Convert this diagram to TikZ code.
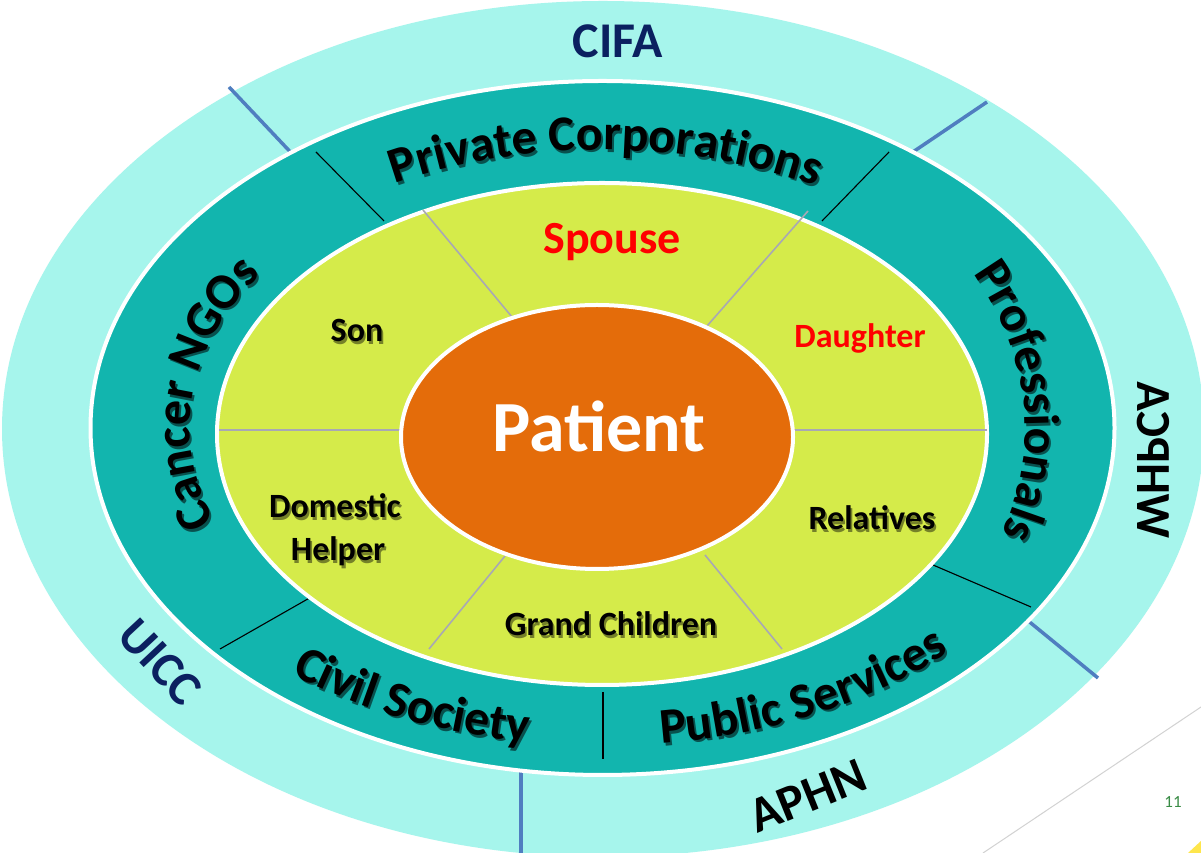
\documentclass[tikz,border=0pt]{standalone}
\usepackage{fontspec}
\setmainfont{Carlito}
\usetikzlibrary{decorations.text}
\definecolor{cyanring}{HTML}{A6F5EC}
\definecolor{tealring}{HTML}{12B5AE}
\definecolor{yellowin}{HTML}{D5EB4A}
\definecolor{orangec}{HTML}{E46C0A}
\definecolor{blueline}{HTML}{4F7EC0}
\definecolor{grayline}{HTML}{A8A8B4}
\definecolor{navytxt}{HTML}{0B2060}
\definecolor{pagegreen}{HTML}{3A8C46}
\definecolor{redtxt}{HTML}{FF0000}
\colorlet{yshadow}{yellowin!55!black}
\colorlet{tshadow}{tealring!45!black}
\newcommand\ringfont{\fontsize{50}{58}\selectfont\bfseries}
% ring texts drawn in colour #1
\newcommand\ringtexts[1]{%
\path[decorate, decoration={text along path, text align=center, text color=#1,
  text={|\ringfont|Private Corporations}}]
  (602,425) ++(159.3:433 and 278) arc[start angle=159.3, end angle=19.3, x radius=433, y radius=278];
\path[decorate, decoration={text along path, text align=center, text color=#1,
  text={|\ringfont|Cancer NGOs}}]
  (602,425) ++(234.3:412 and 274) arc[start angle=234.3, end angle=114.3, x radius=412, y radius=274];
\path[decorate, decoration={text along path, text align=center, text color=#1,
  text={|\ringfont|Professionals}}]
  (602,425) ++(64:423 and 321) arc[start angle=64, end angle=-56, x radius=423, y radius=321];
\path[decorate, decoration={text along path, text align=center, text color=#1,
  text={|\ringfont|Civil Society}}]
  (602,425) ++(191.5:490 and 318) arc[start angle=191.5, end angle=291.5, x radius=490, y radius=318];
\path[decorate, decoration={text along path, text align=center, text color=#1,
  text={|\ringfont|Public Services}}]
  (602,425) ++(250.5:490 and 318) arc[start angle=250.5, end angle=350.5, x radius=490, y radius=318];
}
% black family labels, colour #1, node name prefix #2
\newcommand\famtexts[2]{%
\node[famlbl, text=#1] (#2son) at (357,511) {Son};
\node[famlbl, text=#1] (#2domestic) at (335,335) {Domestic};
\node[famlbl, text=#1] (#2helper) at (338,292) {Helper};
\node[famlbl, text=#1] (#2relatives) at (872,323) {Relatives};
\node[famlbl, text=#1] (#2grand) at (611,217) {Grand Children};
}
\begin{document}
\begin{tikzpicture}[x=1pt,y=1pt,
  outerlbl/.style={font=\fontsize{50}{60}\selectfont\bfseries, inner sep=0pt},
  famlbl/.style={font=\fontsize{34}{42}\selectfont\bfseries, inner sep=0pt, anchor=base, text=black},
  bluesep/.style={draw=blueline, line width=3.5pt},
  blacksep/.style={draw=black, line width=1.1pt},
  graysep/.style={draw=grayline, line width=1.6pt},
  whiteedge/.style={draw=white, line width=4pt}]
\useasboundingbox (0,0) rectangle (1201,853);
\clip (0,0) rectangle (1201,853);
\fill[white] (0,0) rectangle (1201,853);
% slide decoration
\draw[draw=gray!35, line width=1pt] (983,0) -- (1201,146);
\fill[yellow!80!orange!70] (1188,0) -- (1201,0) -- (1201,12) -- cycle;
% outer cyan ring
\fill[cyanring] (603,424) ellipse [x radius=601, y radius=428];
\draw[bluesep] (229,766) -- (297,694);
\draw[bluesep] (987,751) -- (907,697);
\draw[bluesep] (1098,175) -- (1021,238);
\draw[bluesep] (521,0) -- (521,86);
% teal ring
\filldraw[fill=tealring, whiteedge] (602.5,425) ellipse [x radius=512, y radius=347];
\draw[blacksep] (316,701) -- (384,632);
\draw[blacksep] (889,701) -- (822,632);
\draw[blacksep] (220,204) -- (313,257);
\draw[blacksep] (933,288) -- (1031,246);
\draw[blacksep] (603,161) -- (603,94);
% yellow family ring
\filldraw[fill=yellowin, whiteedge] (602,419) ellipse [x radius=385, y radius=251];
\draw[graysep] (423,643) -- (512,536);
\draw[graysep] (808,642) -- (707,527);
\draw[graysep] (219,423) -- (401,423);
\draw[graysep] (987,423) -- (793,423);
\draw[graysep] (505,297) -- (429,204);
\draw[graysep] (705,298) -- (782,204);
% patient
\filldraw[fill=orangec, whiteedge] (597,416) ellipse [x radius=196, y radius=132];
\node[inner sep=0pt, anchor=base, text=white, font=\fontsize{72}{80}\selectfont\bfseries] (patient) at (599,401) {Patient};
% family labels with soft shadow
\begin{scope}[xshift=1.8pt, yshift=-2.2pt]
\famtexts{yshadow}{sh}
\end{scope}
\famtexts{black}{}
\node[famlbl, text=redtxt, font=\fontsize{46}{54}\selectfont\bfseries] (spouse) at (612,599) {Spouse};
\node[famlbl, text=redtxt] (daughter) at (860,505) {Daughter};
% curved ring texts with shadow
\begin{scope}[xshift=2pt, yshift=-2.5pt]
\ringtexts{tshadow}
\end{scope}
\ringtexts{black}
% outer labels
\node[outerlbl, text=navytxt, anchor=base] (cifa) at (618,795) {CIFA};
\node[outerlbl, text=navytxt, rotate=-47, font=\fontsize{49}{56}\selectfont\bfseries] (uicc) at (160,191) {UICC};
\begin{scope}[shift={(1153,393)}]
\node[outerlbl, text=black, xscale=-1, rotate=90, font=\fontsize{49}{56}\selectfont\bfseries] (whpca) at (0,0) {WHPCA};
\end{scope}
\node[outerlbl, text=black, rotate=22] (aphn) at (808,57) {APHN};
\node[inner sep=0pt, text=pagegreen, font=\fontsize{17}{20}\selectfont] (pagenum) at (1173,51) {11};
\end{tikzpicture}
\end{document}
